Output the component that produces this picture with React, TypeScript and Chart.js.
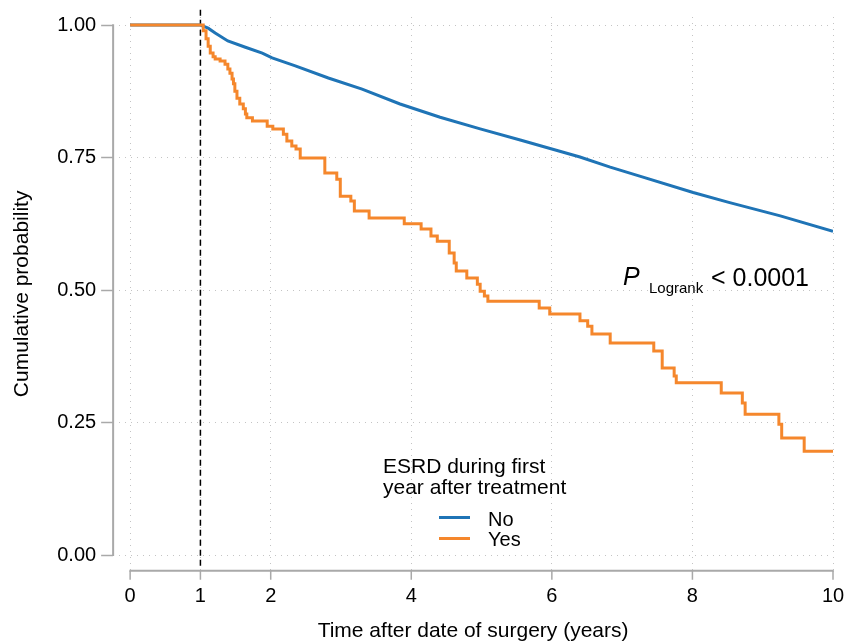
import React, { useEffect, useRef } from 'react';
import { Chart, registerables } from 'chart.js';

Chart.register(...registerables);

const FONT = '"Liberation Sans", Arial, Helvetica, sans-serif';

const xTicks = [0, 1, 2, 4, 6, 8, 10];
const yTicks = [0, 0.25, 0.5, 0.75, 1];

const seriesLabels = ['No', 'Yes'];
const legendTitle = ['ESRD during first', 'year after treatment'];
const xTitle = 'Time after date of surgery (years)';
const yTitle = 'Cumulative probability';

const noTime = [0, 1.0, 1.11, 1.21, 1.39, 1.64, 1.88, 2.02, 2.35, 2.82, 3.30, 3.84, 4.41, 4.98, 5.55, 6.00, 6.40, 6.83, 7.25, 8.01, 8.53, 9.25, 10.0];
const noSurv = [1, 1, 0.994, 0.985, 0.970, 0.958, 0.947, 0.938, 0.923, 0.900, 0.879, 0.851, 0.826, 0.804, 0.783, 0.766, 0.751, 0.732, 0.715, 0.684, 0.665, 0.640, 0.611];

const yesTime = [0, 1.02, 1.04, 1.08, 1.11, 1.14, 1.18, 1.21, 1.28, 1.35, 1.39, 1.42, 1.45, 1.47, 1.49, 1.52, 1.56, 1.61, 1.64, 1.66, 1.74, 1.95, 2.03, 2.18, 2.23, 2.30, 2.36, 2.42, 2.77, 2.94, 2.99, 3.14, 3.19, 3.40, 3.90, 4.14, 4.28, 4.37, 4.54, 4.61, 4.64, 4.79, 4.94, 4.98, 5.04, 5.09, 5.82, 5.97, 6.40, 6.51, 6.57, 6.83, 7.45, 7.57, 7.74, 7.77, 8.41, 8.71, 8.75, 9.23, 9.27, 9.59, 10.0];
const yesSurv = [1, 1, 0.989, 0.974, 0.960, 0.947, 0.940, 0.936, 0.932, 0.926, 0.917, 0.909, 0.898, 0.889, 0.875, 0.862, 0.851, 0.842, 0.832, 0.825, 0.819, 0.809, 0.804, 0.794, 0.781, 0.772, 0.766, 0.749, 0.721, 0.709, 0.677, 0.668, 0.649, 0.636, 0.625, 0.615, 0.602, 0.592, 0.570, 0.551, 0.536, 0.523, 0.511, 0.498, 0.489, 0.479, 0.466, 0.455, 0.442, 0.432, 0.417, 0.400, 0.385, 0.353, 0.338, 0.325, 0.306, 0.287, 0.266, 0.247, 0.221, 0.196, 0.196];

const refLineX = [1, 1];
const refLineY = [-0.02, 1.032];

const BLUE = '#1f74b6';
const ORANGE = '#f5872c';
const AXIS_GRAY = '#a9a9a9';

const zip = (xs: number[], ys: number[]) => xs.map((x, i) => ({ x, y: ys[i] }));

const decorPlugin = {
  id: 'decor',
  beforeDatasetsDraw(chart: any) {
    const { ctx, chartArea, scales } = chart;
    const x = scales.x;
    const y = scales.y;
    ctx.save();
    ctx.strokeStyle = AXIS_GRAY;
    ctx.lineWidth = 2;
    ctx.beginPath();
    ctx.moveTo(chartArea.left, y.getPixelForValue(yTicks[yTicks.length - 1]) - 0.75);
    ctx.lineTo(chartArea.left, y.getPixelForValue(yTicks[0]) + 0.75);
    ctx.moveTo(x.getPixelForValue(xTicks[0]) - 0.75, chartArea.bottom);
    ctx.lineTo(x.getPixelForValue(xTicks[xTicks.length - 1]) + 0.75, chartArea.bottom);
    ctx.stroke();
    ctx.lineWidth = 1.5;
    ctx.beginPath();
    xTicks.forEach((v) => {
      const px = x.getPixelForValue(v);
      ctx.moveTo(px, chartArea.bottom);
      ctx.lineTo(px, chartArea.bottom + 9);
    });
    ctx.stroke();
    ctx.restore();
  },
  afterDatasetsDraw(chart: any) {
    const { ctx } = chart;
    const ds = chart.data.datasets;
    ctx.save();
    ctx.fillStyle = '#000';
    ctx.textBaseline = 'alphabetic';
    ctx.textAlign = 'left';
    ctx.font = `21px ${FONT}`;
    ctx.fillText(legendTitle[0], 383, 473);
    ctx.fillText(legendTitle[1], 383, 494);
    const rows = [
      { y: 517.5, base: 526, ds: ds[0] },
      { y: 538.5, base: 546, ds: ds[1] },
    ];
    ctx.font = `20px ${FONT}`;
    rows.forEach((r) => {
      ctx.strokeStyle = r.ds.borderColor;
      ctx.lineWidth = 3;
      ctx.beginPath();
      ctx.moveTo(439, r.y);
      ctx.lineTo(470, r.y);
      ctx.stroke();
      ctx.fillText(r.ds.label, 488, r.base);
    });
    ctx.font = `italic 25px ${FONT}`;
    ctx.fillText('P', 623, 285);
    ctx.font = `15px ${FONT}`;
    ctx.fillText('Logrank', 649, 293);
    ctx.font = `25px ${FONT}`;
    ctx.fillText('< 0.0001', 711, 286);
    ctx.restore();
  },
};

export default function App() {
  const canvasRef = useRef<HTMLCanvasElement | null>(null);

  useEffect(() => {
    document.body.style.margin = '0';
    const canvas = canvasRef.current;
    if (!canvas) return;
    Chart.defaults.font.family = FONT;
    Chart.defaults.color = '#000';

    const chart = new Chart(canvas, {
      type: 'line',
      data: {
        datasets: [
          {
            label: seriesLabels[0],
            data: zip(noTime, noSurv),
            borderColor: BLUE,
            backgroundColor: BLUE,
            borderWidth: 3,
            pointRadius: 0,
            tension: 0,
            fill: false,
            order: 2,
          },
          {
            label: seriesLabels[1],
            data: zip(yesTime, yesSurv),
            borderColor: ORANGE,
            backgroundColor: ORANGE,
            borderWidth: 3,
            pointRadius: 0,
            stepped: true,
            fill: false,
            order: 1,
          },
          {
            label: 'ref',
            data: zip(refLineX, refLineY),
            borderColor: '#000',
            borderWidth: 1.5,
            borderDash: [6, 4],
            pointRadius: 0,
            fill: false,
            clip: false as any,
            order: 3,
          },
        ],
      },
      options: {
        responsive: false,
        animation: false,
        layout: { padding: { top: 12, right: 13, bottom: 0, left: 0 } },
        plugins: {
          legend: { display: false },
          tooltip: { enabled: false },
        },
        scales: {
          x: {
            type: 'linear',
            min: -0.242,
            max: 10,
            afterBuildTicks: (scale: any) => {
              scale.ticks = xTicks.map((v) => ({ value: v }));
            },
            ticks: {
              autoSkip: false,
              maxRotation: 0,
              padding: 0,
              font: { size: 20 },
              color: '#000',
              callback: (v: any) => String(v),
            },
            grid: {
              color: '#c4c4c4',
              lineWidth: 1,
              drawTicks: true,
              tickLength: 14,
              tickColor: 'rgba(0,0,0,0)',
              tickWidth: 1,
            },
            border: { display: false, dash: [1, 5] },
            title: {
              display: true,
              text: xTitle,
              font: { size: 21 },
              color: '#000',
              padding: { top: 10, bottom: 0 },
            },
          },
          y: {
            type: 'linear',
            min: -0.0295,
            max: 1.0151,
            afterBuildTicks: (scale: any) => {
              scale.ticks = yTicks.map((v) => ({ value: v }));
            },
            ticks: {
              autoSkip: false,
              padding: 5,
              font: { size: 20 },
              color: '#000',
              callback: (v: any) => Number(v).toFixed(2),
            },
            grid: {
              color: '#c4c4c4',
              lineWidth: 1,
              drawTicks: true,
              tickLength: 12,
              tickColor: AXIS_GRAY,
              tickWidth: 1.5,
            },
            border: { display: false, dash: [1, 5] },
            title: {
              display: true,
              text: yTitle,
              font: { size: 21 },
              color: '#000',
              padding: { top: 10, bottom: 17 },
            },
          },
        },
      },
      plugins: [decorPlugin],
    } as any);

    return () => chart.destroy();
  }, []);

  return (
    <div style={{ width: 846, height: 644 }}>
      <canvas ref={canvasRef} width={846} height={644} style={{ display: 'block' }} />
    </div>
  );
}
